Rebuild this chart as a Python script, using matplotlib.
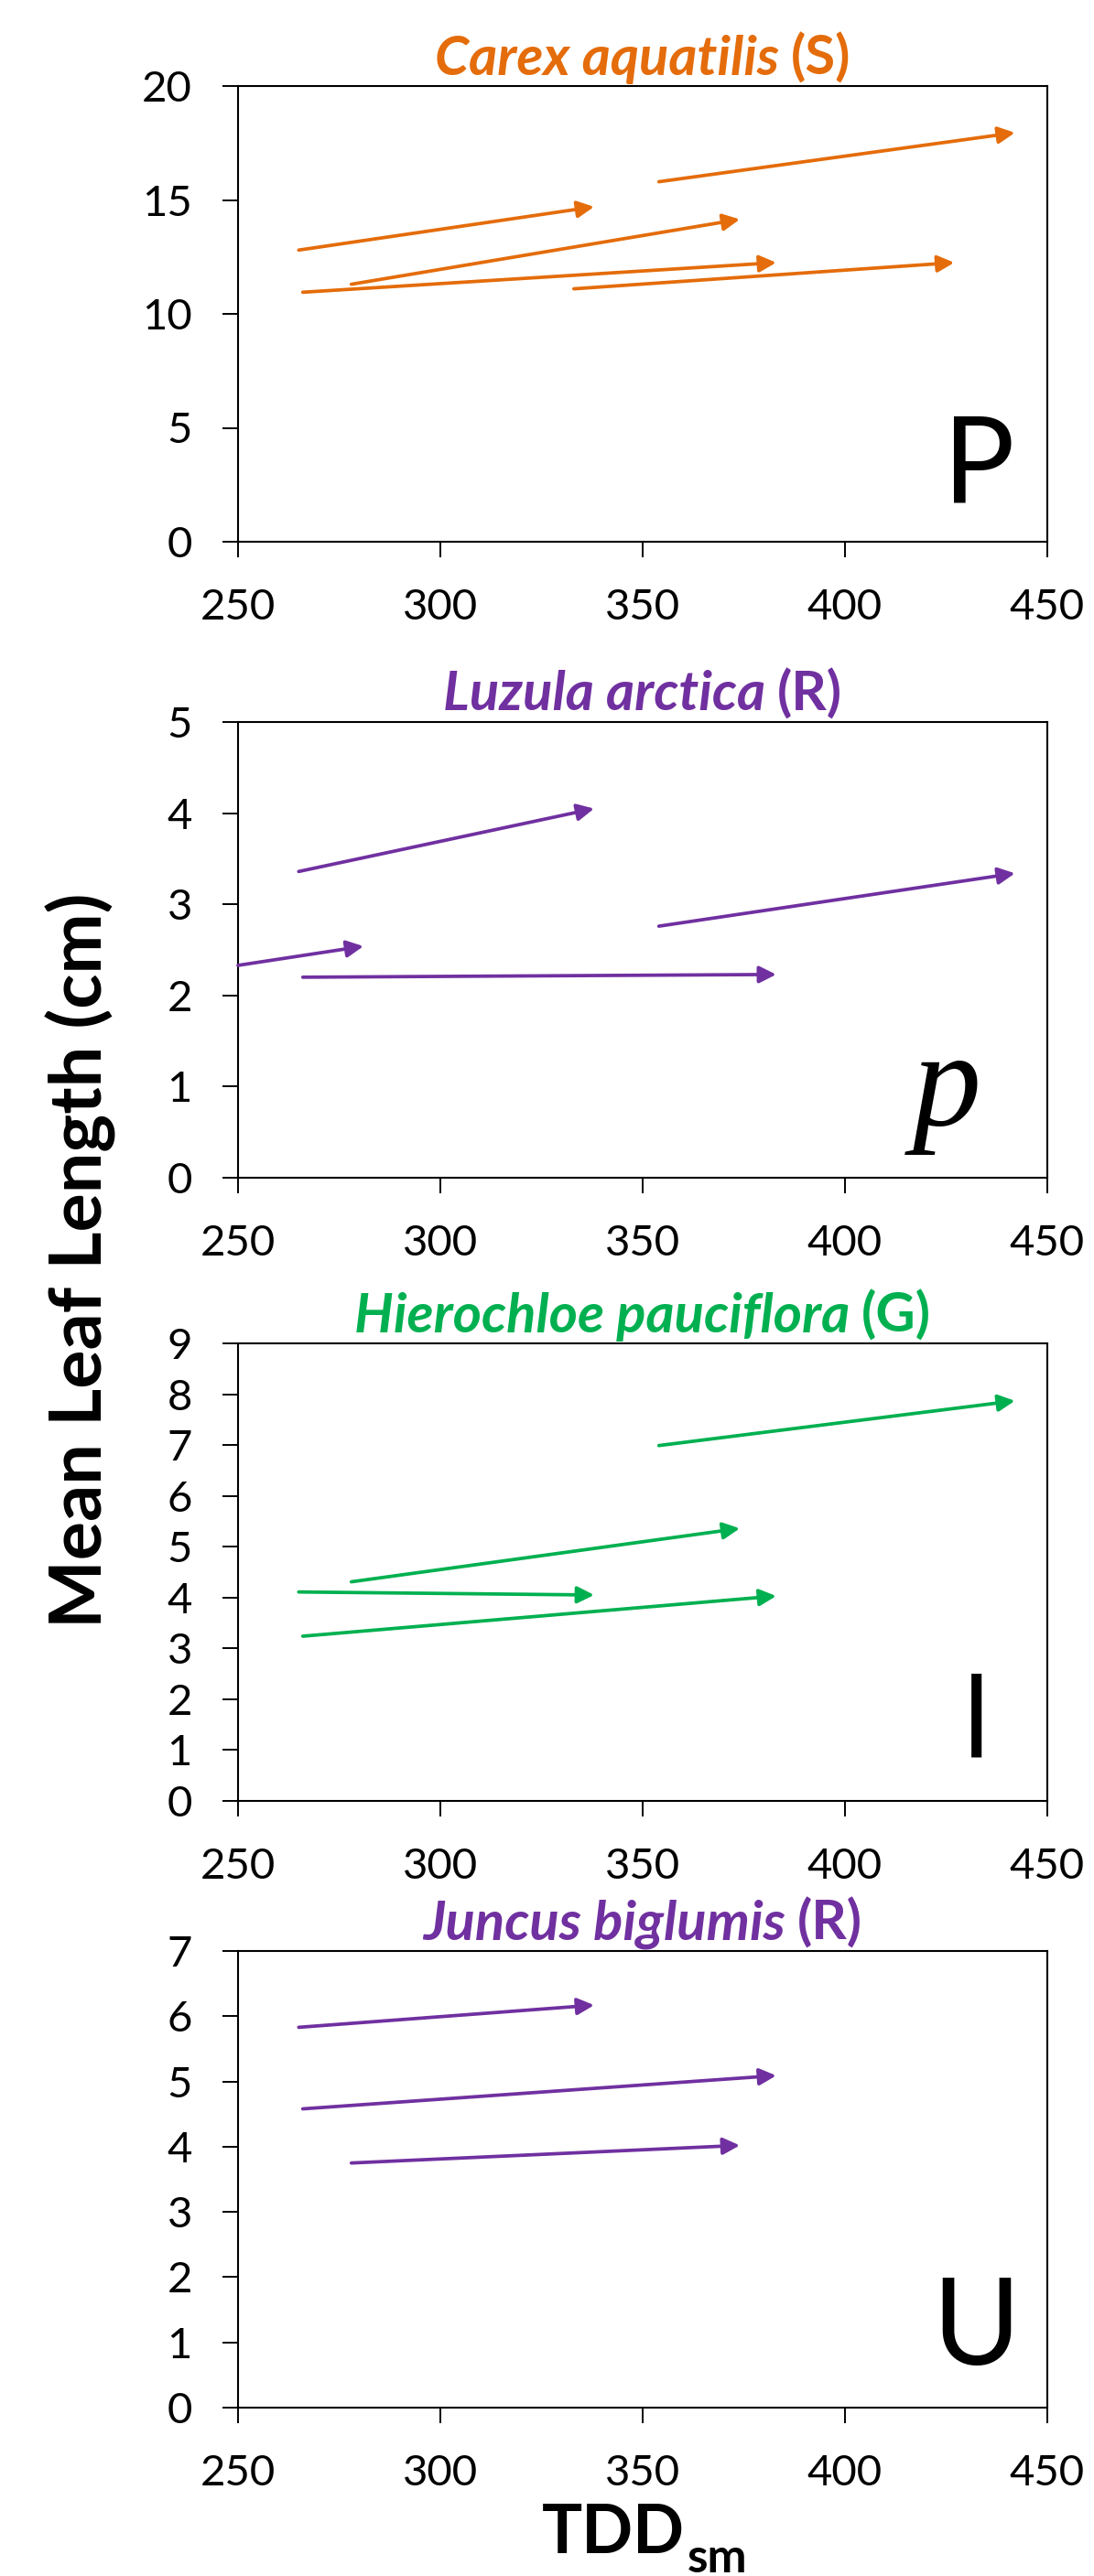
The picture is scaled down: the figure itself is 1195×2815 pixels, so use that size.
import matplotlib
matplotlib.use("Agg")
import matplotlib.pyplot as plt
from matplotlib.ticker import MultipleLocator

# ---------------- data ----------------
species = ["Carex aquatilis", "Luzula arctica", "Hierochloe pauciflora", "Juncus biglumis"]
codes = ["(S)", "(R)", "(G)", "(R)"]
colors = ["#E46C0A", "#7030A0", "#00B050", "#7030A0"]
letters = ["P", "p", "l", "U"]
y_max = [20, 5, 9, 7]
y_step = [5, 1, 1, 1]
x_ticks = [250, 300, 350, 400, 450]

carex_x0 = [265, 278, 266, 333, 354]
carex_y0 = [12.8, 11.3, 10.95, 11.1, 15.8]
carex_x1 = [338, 374, 383, 427, 442]
carex_y1 = [14.7, 14.15, 12.25, 12.25, 17.95]

luzula_x0 = [265, 250, 266, 354]
luzula_y0 = [3.36, 2.33, 2.20, 2.76]
luzula_x1 = [338, 281, 383, 442]
luzula_y1 = [4.05, 2.54, 2.23, 3.34]

hiero_x0 = [354, 278, 265, 266]
hiero_y0 = [6.99, 4.31, 4.11, 3.24]
hiero_x1 = [442, 374, 338, 383]
hiero_y1 = [7.87, 5.36, 4.05, 4.03]

juncus_x0 = [265, 266, 278]
juncus_y0 = [5.83, 4.58, 3.75]
juncus_x1 = [338, 383, 374]
juncus_y1 = [6.17, 5.09, 4.02]

arrows = [
    (carex_x0, carex_y0, carex_x1, carex_y1),
    (luzula_x0, luzula_y0, luzula_x1, luzula_y1),
    (hiero_x0, hiero_y0, hiero_x1, hiero_y1),
    (juncus_x0, juncus_y0, juncus_x1, juncus_y1),
]

y_label = "Mean Leaf Length (cm)"
x_label_main = "TDD"
x_label_sub = "sm"

# ---------------- layout ----------------
W, H = 1195, 2815
DPI = 100
plt.rcParams["font.family"] = ["Lato", "DejaVu Sans"]

fig = plt.figure(figsize=(W / DPI, H / DPI), dpi=DPI)
fig.patch.set_facecolor("white")

# (top_px, bottom_px) of each axes
panel_px = [(94, 592), (789, 1287), (1468, 1968), (2132, 2631)]
left_px, right_px = 260, 1144

# letter placement (axes fraction x, baseline y, fontsize, family, style)
letter_pos = [
    (0.916, 0.088, 94, ["Lato"], "normal"),
    (0.876, 0.115, 108, ["Liberation Serif"], "italic"),
    (0.912, 0.098, 90, ["Lato"], "normal"),
    (0.912, 0.094, 94, ["Lato"], "normal"),
]

TITLE_FS = 43
title_pairs = []
for i in range(4):
    top, bot = panel_px[i]
    ax = fig.add_axes([left_px / W, 1 - bot / H, (right_px - left_px) / W, (bot - top) / H])
    ax.set_xlim(250, 450)
    ax.set_ylim(0, y_max[i])
    ax.set_xticks(x_ticks)
    ax.yaxis.set_major_locator(MultipleLocator(y_step[i]))
    for sp in ax.spines.values():
        sp.set_linewidth(1.5)
        sp.set_color("black")
    ax.tick_params(axis="both", direction="out", length=12, width=1.4,
                   labelsize=34, colors="black")
    ax.tick_params(axis="x", pad=25)
    ax.tick_params(axis="y", pad=24)
    ax.tick_params(top=False, right=False)

    x0s, y0s, x1s, y1s = arrows[i]
    for x0, y0, x1, y1 in zip(x0s, y0s, x1s, y1s):
        ax.annotate("", xy=(x1, y1), xytext=(x0, y0), xycoords="data",
                    textcoords="data", annotation_clip=False,
                    arrowprops=dict(arrowstyle="-|>,head_length=1.1,head_width=0.55",
                                    mutation_scale=10, lw=2.7, color=colors[i],
                                    shrinkA=0, shrinkB=0))

    lx, ly, lfs, lfam, lsty = letter_pos[i]
    ax.text(lx, ly, letters[i], transform=ax.transAxes, ha="center", va="baseline",
            fontsize=lfs, family=lfam, style=lsty, color="black")

    t1 = ax.annotate(species[i], xy=(0.5, 1.0), xycoords="axes fraction",
                     xytext=(0, 9), textcoords="offset points", ha="right",
                     va="baseline", fontsize=TITLE_FS, fontweight="bold", fontstyle="italic",
                     color=colors[i], annotation_clip=False)
    t2 = ax.annotate(codes[i], xy=(0.5, 1.0), xycoords="axes fraction",
                     xytext=(0, 9), textcoords="offset points", ha="left",
                     va="baseline", fontsize=TITLE_FS, fontweight="bold",
                     color=colors[i], annotation_clip=False)
    title_pairs.append((t1, t2))

# y label
fig.text(88 / W, 1 - 1377 / H, y_label, rotation=90, ha="center", va="center",
         fontsize=57, fontweight="bold", color="black")

# x label with subscript
fig.text(748 / W, 1 - 2790 / H, x_label_main, ha="right", va="baseline",
         fontsize=53, fontweight="bold", color="black")
fig.text(751 / W, 1 - 2811 / H, x_label_sub, ha="left", va="baseline",
         fontsize=37, fontweight="bold", color="black")

# center the two-part titles
fig.canvas.draw()
r = fig.canvas.get_renderer()
gap_px = 13
for t1, t2 in title_pairs:
    w1 = t1.get_window_extent(r).width
    w2 = t2.get_window_extent(r).width
    total = w1 + gap_px + w2
    split = -total / 2 + w1  # in px relative to center
    t1.xyann = (split * 72 / DPI, 9)
    t2.xyann = ((split + gap_px) * 72 / DPI, 9)

fig.savefig("out.png", dpi=DPI, facecolor="white")
